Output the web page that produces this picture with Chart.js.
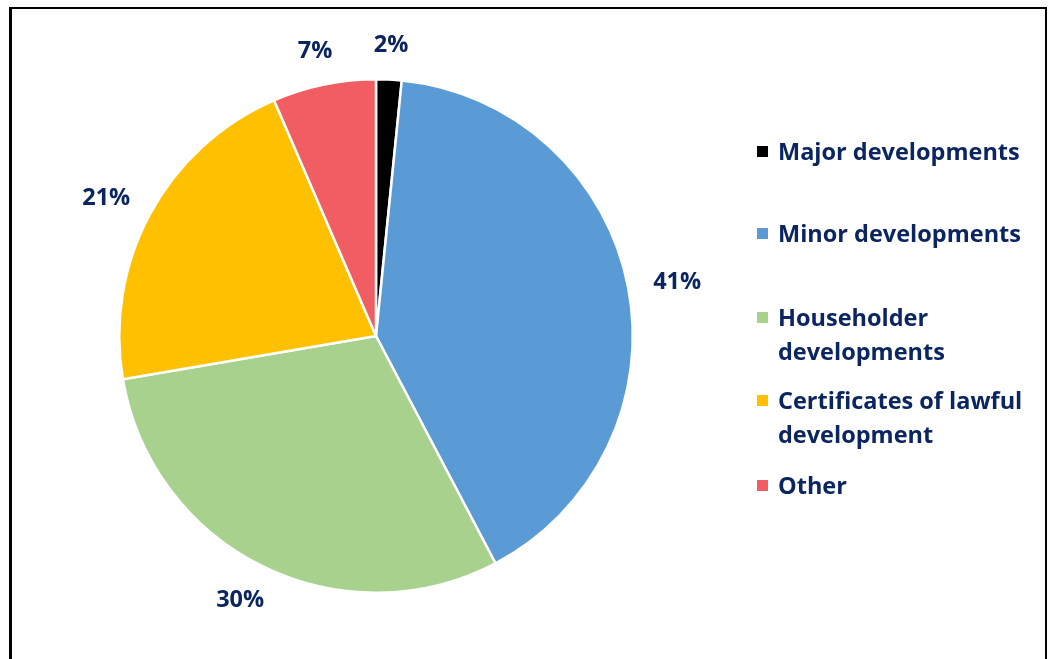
<!DOCTYPE html>
<html>
<head>
<meta charset="utf-8">
<script src="https://cdn.jsdelivr.net/npm/chart.js@4/dist/chart.umd.min.js"></script>
<style>
  html, body { margin: 0; padding: 0; background: #fff; }
  #wrap { position: relative; width: 1048px; height: 659px; overflow: hidden; }
  #frame { position: absolute; left: 9px; top: 7px; width: 1033px; height: 700px;
           border-left: 3px solid #000; border-top: 2px solid #000; border-right: 2px solid #000; }
  canvas { position: absolute; left: 0; top: 0; }
  #legend { position: absolute; left: 756px; top: 0; font-family: "Open Sans", sans-serif;
            font-weight: bold; font-size: 23.5px; color: #0B2560; }
  .item { position: absolute; left: 0; width: 285px; line-height: 34px; padding-left: 22px; white-space: nowrap; }
  .box { position: absolute; left: 1px; top: 12px; width: 11px; height: 11px; }
</style>
</head>
<body>
<div id="wrap">
  <div id="frame"></div>
  <canvas id="pie" width="1048" height="659"></canvas>
  <div id="legend"></div>
</div>
<script>
var categories = ['Major developments', 'Minor developments', 'Householder developments',
                  'Certificates of lawful development', 'Other'];
var legendLines = [['Major developments'], ['Minor developments'], ['Householder', 'developments'],
                   ['Certificates of lawful', 'development'], ['Other']];
var values = [1.6, 40.7, 30.0, 21.2, 6.5];
var pctLabels = ['2%', '41%', '30%', '21%', '7%'];
var colors = ['#000000', '#5B9BD5', '#A9D18E', '#FFC000', '#F05E64'];
var legendTops = [134, 216, 300, 383, 468];

// html legend
var legend = document.getElementById('legend');
legendLines.forEach(function (lines, i) {
  var div = document.createElement('div');
  div.className = 'item';
  div.style.top = legendTops[i] + 'px';
  div.innerHTML = '<span class="box" style="background:' + colors[i] + '"></span>' + lines.join('<br>');
  legend.appendChild(div);
});

var outsideLabels = {
  id: 'outsideLabels',
  afterDatasetsDraw: function (chart) {
    var c = chart.ctx;
    var arcs = chart.getDatasetMeta(0).data;
    c.save();
    c.font = 'bold 23.5px "Open Sans", sans-serif';
    c.fillStyle = '#0B2560';
    c.textAlign = 'center';
    c.textBaseline = 'middle';
    arcs.forEach(function (arc, i) {
      var p = arc.getProps(['x', 'y', 'startAngle', 'endAngle', 'outerRadius']);
      var mid = (p.startAngle + p.endAngle) / 2;
      var r = p.outerRadius + 24;
      var w = c.measureText(pctLabels[i]).width / 2 + 2;
      var h = 12;
      var x = p.x + Math.cos(mid) * r + Math.cos(mid) * w;
      var y = p.y + Math.sin(mid) * r + Math.sin(mid) * h;
      c.fillText(pctLabels[i], x, y + 2);
    });
    c.restore();
  }
};

var ctx = document.getElementById('pie').getContext('2d');
var chart = new Chart(ctx, {
  type: 'pie',
  data: {
    labels: categories,
    datasets: [{
      data: values,
      backgroundColor: colors,
      borderColor: '#ffffff',
      borderWidth: 2.5,
      hoverOffset: 0
    }]
  },
  options: {
    responsive: false,
    animation: false,
    layout: { padding: { left: 118, top: 78, right: 414, bottom: 65 } },
    plugins: {
      legend: { display: false },
      tooltip: { enabled: false }
    }
  },
  plugins: [outsideLabels]
});
</script>
</body>
</html>
